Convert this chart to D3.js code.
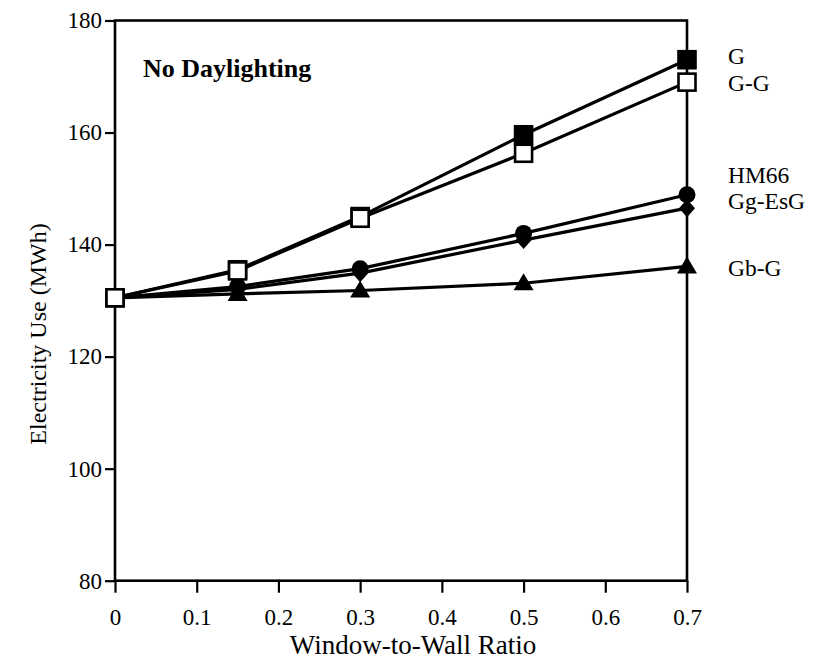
<!DOCTYPE html>
<html>
<head>
<meta charset="utf-8">
<script src="https://cdn.jsdelivr.net/npm/d3@7"></script>
<style>
  html, body { margin: 0; padding: 0; background: #fff; }
  svg { display: block; }
  text { font-family: "Liberation Serif", "Times New Roman", serif; fill: #000; }
</style>
</head>
<body>
<svg id="chart" width="818" height="664"></svg>
<script>
// ---- data ----
const xValues = [0, 0.15, 0.3, 0.5, 0.7];
const seriesNames = ["Gb-G", "Gg-EsG", "HM66", "G", "G-G"];
const valuesGbG   = [130.5, 131.2, 131.8, 133.1, 136.1];
const valuesGgEsG = [130.5, 132.0, 134.9, 140.8, 146.5];
const valuesHM66  = [130.5, 132.5, 135.7, 142.0, 148.9];
const valuesG     = [130.5, 135.5, 145.0, 159.6, 173.0];
const valuesGG    = [130.5, 135.3, 144.7, 156.3, 169.0];
const xTicks = [0, 0.1, 0.2, 0.3, 0.4, 0.5, 0.6, 0.7];
const xTickLabels = ["0", "0.1", "0.2", "0.3", "0.4", "0.5", "0.6", "0.7"];
const yTicks = [80, 100, 120, 140, 160, 180];
const labelOrder = ["G", "G-G", "HM66", "Gg-EsG", "Gb-G"];
const chartTitle = "No Daylighting";
const xTitle = "Window-to-Wall Ratio";
const yTitle = "Electricity Use (MWh)";

const seriesValues = {"Gb-G": valuesGbG, "Gg-EsG": valuesGgEsG, "HM66": valuesHM66, "G": valuesG, "G-G": valuesGG};
const markerType = {"Gb-G": "triangle", "Gg-EsG": "diamond", "HM66": "circle", "G": "fsquare", "G-G": "osquare"};

// ---- layout ----
const FONT = "'Liberation Serif', 'Times New Roman', serif";
const svg = d3.select("#chart");
const pL = 115, pR = 687, pT = 20.5, pB = 580.7;
const x = d3.scaleLinear().domain([0, 0.7]).range([pL, pR]);
const y = d3.scaleLinear().domain([80, 180]).range([pB, pT]);

// frame
svg.append("rect").attr("x", pL).attr("y", pT)
  .attr("width", pR - pL).attr("height", pB - pT)
  .attr("fill", "none").attr("stroke", "#000").attr("stroke-width", 2.6);

// axes
const xAxis = d3.axisBottom(x).tickValues(xTicks)
  .tickFormat((d, i) => xTickLabels[i]).tickSize(12).tickPadding(16);
const gx = svg.append("g").attr("transform", `translate(0,${pB})`).call(xAxis)
  .attr("font-family", FONT).attr("font-size", 23);
gx.select(".domain").remove();
gx.selectAll(".tick line").attr("stroke", "#000").attr("stroke-width", 2.2);
gx.selectAll(".tick text").attr("fill", "#000").style("font-family", FONT).style("font-size", "23px");

const yAxis = d3.axisLeft(y).tickValues(yTicks).tickSize(10).tickPadding(3);
const gy = svg.append("g").attr("transform", `translate(${pL},0)`).call(yAxis)
  .attr("font-family", FONT).attr("font-size", 23);
gy.select(".domain").remove();
gy.selectAll(".tick line").attr("stroke", "#000").attr("stroke-width", 2.2);
gy.selectAll(".tick text").attr("fill", "#000").style("font-family", FONT).style("font-size", "23px");

// titles
svg.append("text").attr("x", 413).attr("y", 654).attr("text-anchor", "middle")
  .style("font-family", FONT).style("font-size", "27px").text(xTitle);
svg.append("text").attr("transform", "translate(46,334) rotate(-90)").attr("text-anchor", "middle")
  .style("font-family", FONT).style("font-size", "24px").text(yTitle);
svg.append("text").attr("x", 143).attr("y", 77)
  .style("font-family", FONT).style("font-size", "26px").style("font-weight", "bold").text(chartTitle);

// lines
const line = d3.line().x((d, i) => x(xValues[i])).y(d => y(d));
seriesNames.forEach(name => {
  svg.append("path").datum(seriesValues[name]).attr("d", line)
    .attr("fill", "none").attr("stroke", "#000").attr("stroke-width", 3.2);
});

// markers
function drawMarker(g, type, cx, cy) {
  if (type === "fsquare" || type === "osquare") {
    g.append("rect").attr("x", cx - 8.5).attr("y", cy - 8.5).attr("width", 17).attr("height", 17)
      .attr("fill", type === "fsquare" ? "#000" : "#fff").attr("stroke", "#000").attr("stroke-width", 2.6);
  } else if (type === "circle") {
    g.append("circle").attr("cx", cx).attr("cy", cy).attr("r", 8.5).attr("fill", "#000");
  } else if (type === "diamond") {
    g.append("path").attr("d", `M${cx},${cy - 9}L${cx + 8},${cy}L${cx},${cy + 9}L${cx - 8},${cy}Z`).attr("fill", "#000");
  } else if (type === "triangle") {
    g.append("path").attr("d", `M${cx},${cy - 10}L${cx + 10},${cy + 7}L${cx - 10},${cy + 7}Z`).attr("fill", "#000");
  }
}
seriesNames.forEach(name => {
  const g = svg.append("g");
  seriesValues[name].forEach((v, i) => drawMarker(g, markerType[name], x(xValues[i]), y(v)));
});

// series labels at right
const labelBaselines = {"G": 64, "G-G": 91, "HM66": 183, "Gg-EsG": 209, "Gb-G": 276};
labelOrder.forEach(name => {
  svg.append("text").attr("x", 728).attr("y", labelBaselines[name])
    .style("font-family", FONT).style("font-size", "23.5px").text(name);
});
</script>
</body>
</html>
